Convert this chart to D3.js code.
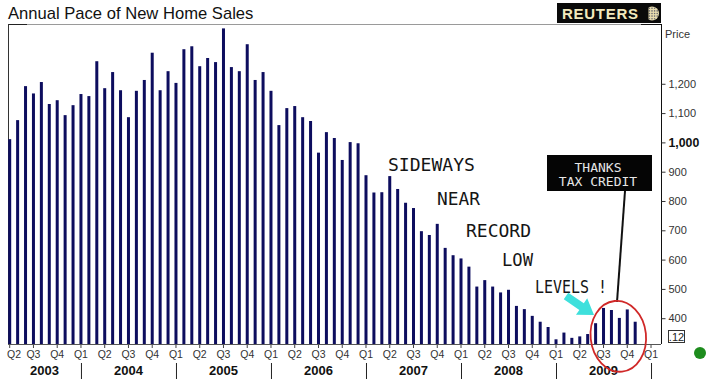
<!DOCTYPE html>
<html><head><meta charset="utf-8">
<script src="https://cdn.jsdelivr.net/npm/d3@7"></script>
<style>body{margin:0;background:#fff} svg{display:block}</style>
</head><body>
<script>
// ---- data ----
const months = [
"2003-04","2003-05","2003-06","2003-07","2003-08","2003-09","2003-10","2003-11","2003-12",
"2004-01","2004-02","2004-03","2004-04","2004-05","2004-06","2004-07","2004-08","2004-09","2004-10","2004-11","2004-12",
"2005-01","2005-02","2005-03","2005-04","2005-05","2005-06","2005-07","2005-08","2005-09","2005-10","2005-11","2005-12",
"2006-01","2006-02","2006-03","2006-04","2006-05","2006-06","2006-07","2006-08","2006-09","2006-10","2006-11","2006-12",
"2007-01","2007-02","2007-03","2007-04","2007-05","2007-06","2007-07","2007-08","2007-09","2007-10","2007-11","2007-12",
"2008-01","2008-02","2008-03","2008-04","2008-05","2008-06","2008-07","2008-08","2008-09","2008-10","2008-11","2008-12",
"2009-01","2009-02","2009-03","2009-04","2009-05","2009-06","2009-07","2009-08","2009-09","2009-10","2009-11"];
const sales = [
1011,1076,1192,1167,1206,1131,1144,1093,1127,
1165,1158,1277,1185,1240,1178,1086,1176,1213,1306,1178,1243,
1203,1318,1328,1260,1288,1274,1389,1257,1243,1335,1213,1240,
1176,1059,1117,1124,1086,1073,965,1035,1015,940,1001,997,
888,829,830,885,841,794,776,697,684,722,640,615,
604,576,508,530,508,488,497,442,431,408,388,370,
328,351,333,338,346,383,435,428,401,430,388];
const yTicks = [400,500,600,700,800,900,1000,1100,1200];
const years = ["2003","2004","2005","2006","2007","2008","2009"];
const annotations = ["SIDEWAYS","NEAR","RECORD","LOW","LEVELS !"];

// ---- layout ----
const W = 707, H = 380;
const L = 8, R = 661, T = 24, B = 344;
const svg = d3.select("body").append("svg").attr("width", W).attr("height", H);
const SANS = "'Liberation Sans', Arial, sans-serif";
const MONO = "'DejaVu Sans Mono', monospace";

const x = d3.scaleLinear().domain([-0.215, 82.26]).range([L, R]);
const y = d3.scaleLinear().domain([312, 1404]).range([B, T]);

// title
svg.append("text").attr("x", 8).attr("y", 18.5).attr("font-family", SANS)
  .attr("font-size", 16.6).attr("fill", "#111").text("Annual Pace of New Home Sales");

// Reuters logo
const logo = svg.append("g");
logo.append("rect").attr("x", 557).attr("y", 3).attr("width", 104).attr("height", 20).attr("fill", "#0a0a0a");
logo.append("text").attr("x", 562).attr("y", 19).attr("font-family", SANS).attr("font-weight", "bold")
  .attr("font-size", 15).attr("fill", "#f2e9bd").attr("textLength", 76).text("REUTERS");
const gx = 652, gy = 13.5;
logo.append("circle").attr("cx", gx).attr("cy", gy).attr("r", 7).attr("fill", "#e8dcae");
for (let r = -2; r <= 2; r++) for (let c = -2; c <= 2; c++) {
  if (r*r + c*c > 5) continue;
  logo.append("circle").attr("cx", gx + c*2.6).attr("cy", gy + r*2.6).attr("r", 0.8).attr("fill", "#6a6a70");
}
logo.append("rect").attr("x", gx - 7.5).attr("y", gy - 7).attr("width", 4).attr("height", 14).attr("fill", "#0a0a0a");

// plot frame
svg.append("line").attr("x1", L).attr("x2", R).attr("y1", T + 0.5).attr("y2", T + 0.5).attr("stroke", "#9a9a9a");
svg.append("line").attr("x1", 641).attr("x2", R).attr("y1", T + 0.5).attr("y2", T + 0.5).attr("stroke", "#111");
svg.append("line").attr("x1", L).attr("x2", 27).attr("y1", T + 0.5).attr("y2", T + 0.5).attr("stroke", "#222");
svg.append("line").attr("x1", L + 0.5).attr("x2", L + 0.5).attr("y1", T).attr("y2", B).attr("stroke", "#333");
svg.append("line").attr("x1", L).attr("x2", R).attr("y1", B + 0.5).attr("y2", B + 0.5).attr("stroke", "#555");

// bars
svg.append("g").selectAll("rect").data(sales).join("rect")
  .attr("x", (d, i) => x(i) - 1.5).attr("width", 3)
  .attr("y", d => y(d)).attr("height", d => B - y(d))
  .attr("fill", "#0d0d5e");

// right y axis
const yAxis = d3.axisRight(y).tickValues(yTicks).tickSize(4).tickPadding(3)
  .tickFormat(d3.format(","));
const ya = svg.append("g").attr("transform", `translate(${R + 0.5},0)`).call(yAxis);
ya.select(".domain").attr("stroke", "#111").attr("d", `M0,${T}V${B}`);
ya.selectAll(".tick line").attr("stroke", "#333");
ya.selectAll(".tick text").attr("font-family", SANS).attr("font-size", 11).attr("fill", "#333")
  .filter(d => d === 1000).attr("font-weight", "bold").attr("font-size", 12.3).attr("fill", "#111");
svg.append("text").attr("x", 665).attr("y", 38).attr("font-family", SANS).attr("font-size", 11)
  .attr("fill", "#333").text("Price");
svg.append("rect").attr("x", 668.5).attr("y", 330.5).attr("width", 16).attr("height", 12)
  .attr("fill", "#fff").attr("stroke", "#333");
svg.append("text").attr("x", 676.5).attr("y", 340.5).attr("text-anchor", "middle").attr("font-family", SANS)
  .attr("font-size", 11).attr("fill", "#222").text(".12");

// x axis quarters
const qIdx = d3.range(0, 82, 3);
const qLabel = i => "Q" + (Math.floor(((3 + i) % 12) / 3) + 1);
const xg = svg.append("g");
xg.selectAll("line.qt").data(qIdx).join("line").attr("class", "qt")
  .attr("x1", i => x(i)).attr("x2", i => x(i)).attr("y1", B + 1).attr("y2", B + 4).attr("stroke", "#444");
xg.selectAll("text.ql").data(qIdx).join("text").attr("class", "ql")
  .attr("x", i => Math.max(x(i), 14)).attr("y", 358).attr("text-anchor", "middle")
  .attr("font-family", SANS).attr("font-size", 10.5).attr("fill", "#333").text(qLabel);

// year separators & labels
const sepIdx = d3.range(9, 82, 12);
xg.selectAll("line.ys").data(sepIdx).join("line").attr("class", "ys")
  .attr("x1", i => x(i) + 0.5).attr("x2", i => x(i) + 0.5).attr("y1", 363).attr("y2", 379)
  .attr("stroke", "#222").attr("stroke-width", 1);
xg.selectAll("text.yl").data(years).join("text").attr("class", "yl")
  .attr("x", (d, k) => k === 0 ? (L + x(9)) / 2 : (x(9 + 12 * (k - 1)) + x(21 + 12 * (k - 1))) / 2)
  .attr("y", 375).attr("text-anchor", "middle").attr("font-family", SANS).attr("font-weight", "bold")
  .attr("font-size", 13).attr("fill", "#111").text(d => d);

// annotations
const annPos = [[388, 171, 87], [437, 205, 43], [466, 237, 65], [502, 266, 31], [535, 293, 72]];
svg.append("g").selectAll("text").data(annotations).join("text")
  .attr("x", (d, i) => annPos[i][0]).attr("y", (d, i) => annPos[i][1])
  .attr("textLength", (d, i) => annPos[i][2]).attr("lengthAdjust", "spacingAndGlyphs")
  .attr("font-family", MONO).attr("font-size", 17).attr("fill", "#151515").text(d => d);

// THANKS TAX CREDIT box
svg.append("rect").attr("x", 547).attr("y", 155).attr("width", 105).attr("height", 36).attr("fill", "#050505");
svg.append("text").attr("x", 598).attr("y", 172).attr("text-anchor", "middle").attr("font-family", MONO)
  .attr("font-size", 13).attr("fill", "#e6e6e6").text("THANKS");
svg.append("text").attr("x", 598).attr("y", 186).attr("text-anchor", "middle").attr("font-family", MONO)
  .attr("font-size", 13).attr("fill", "#e6e6e6").text("TAX CREDIT");
svg.append("line").attr("x1", 625).attr("y1", 191).attr("x2", 617).attr("y2", 302)
  .attr("stroke", "#111").attr("stroke-width", 2);

// red ellipse
svg.append("ellipse").attr("cx", 618.3).attr("cy", 336.3).attr("rx", 27.7).attr("ry", 35.5)
  .attr("transform", "rotate(-6 618.3 336.3)")
  .attr("fill", "none").attr("stroke", "#d02828").attr("stroke-width", 1.8);

// cyan arrow
(function () {
  const x0 = 566, y0 = 296, x1 = 594, y1 = 315;
  const dx = x1 - x0, dy = y1 - y0, len = Math.hypot(dx, dy);
  const ux = dx / len, uy = dy / len, nx = -uy, ny = ux;
  const hl = 15, hw = 10, sw = 4;
  const bx = x1 - ux * hl, by = y1 - uy * hl;
  const pts = [
    [x0 + nx * sw, y0 + ny * sw], [bx + nx * sw, by + ny * sw], [bx + nx * hw, by + ny * hw],
    [x1, y1], [bx - nx * hw, by - ny * hw], [bx - nx * sw, by - ny * sw], [x0 - nx * sw, y0 - ny * sw]];
  svg.append("polygon").attr("points", pts.map(p => p.join(",")).join(" ")).attr("fill", "#3ee0dc");
})();

// green dot
svg.append("circle").attr("cx", 700).attr("cy", 353).attr("r", 6).attr("fill", "#1d8c1d");
</script>
</body></html>
